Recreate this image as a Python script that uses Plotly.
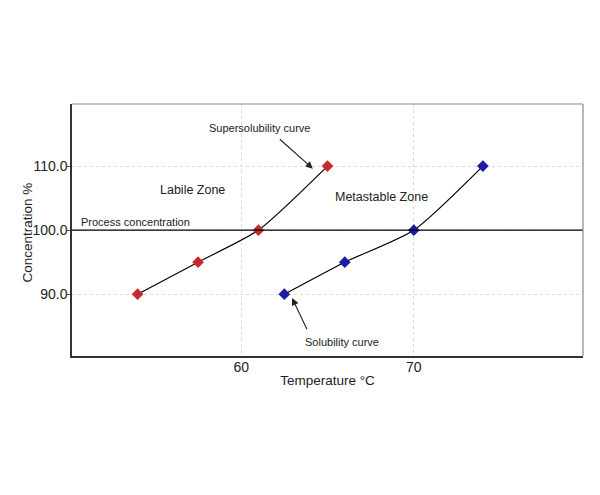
import plotly.graph_objects as go

super_temp = [54.0, 57.5, 61.0, 65.0]
super_conc = [90.0, 95.0, 100.0, 110.0]
sol_temp = [62.5, 66.0, 70.0, 74.0]
sol_conc = [90.0, 95.0, 100.0, 110.0]
process_conc = 100.0
x_ticks = [60, 70]
y_ticks = [90.0, 100.0, 110.0]
y_tick_labels = ["90.0", "100.0", "110.0"]

FONT = "Liberation Sans, Arial, sans-serif"

fig = go.Figure()
fig.add_trace(go.Scatter(x=super_temp, y=super_conc, mode="lines",
                         line=dict(color="black", width=1.2, shape="spline", smoothing=0.6),
                         hoverinfo="skip", showlegend=False))
fig.add_trace(go.Scatter(x=sol_temp, y=sol_conc, mode="lines",
                         line=dict(color="black", width=1.2, shape="spline", smoothing=0.6),
                         hoverinfo="skip", showlegend=False))
fig.add_trace(go.Scatter(x=super_temp, y=super_conc, mode="markers",
                         marker=dict(symbol="diamond", size=9, color="#c62a2a"),
                         name="Supersolubility", showlegend=False))
fig.add_trace(go.Scatter(x=sol_temp, y=sol_conc, mode="markers",
                         marker=dict(symbol="diamond", size=9, color="#1c1ca6"),
                         name="Solubility", showlegend=False))

fig.add_hline(y=process_conc, line=dict(color="black", width=1.2))

# top/right frame in gray
fig.add_shape(type="line", xref="paper", yref="paper", x0=0, x1=1, y0=1, y1=1,
              line=dict(color="#888888", width=1.2))
fig.add_shape(type="line", xref="paper", yref="paper", x0=1, x1=1, y0=0, y1=1,
              line=dict(color="#888888", width=1.2))

ann_font = dict(family=FONT, size=11, color="#222222")
fig.add_annotation(x=61.1, y=115.9, text="Supersolubility curve", showarrow=False, font=ann_font)
fig.add_annotation(x=64.15, y=109.6, ax=62.15, ay=114.4, axref="x", ayref="y",
                   text="", showarrow=True, arrowhead=2, arrowsize=1.3, arrowwidth=1.1,
                   arrowcolor="#222222")
fig.add_annotation(x=65.85, y=82.5, text="Solubility curve", showarrow=False, font=ann_font)
fig.add_annotation(x=62.95, y=89.4, ax=63.85, ay=84.3, axref="x", ayref="y",
                   text="", showarrow=True, arrowhead=2, arrowsize=1.3, arrowwidth=1.1,
                   arrowcolor="#222222")
fig.add_annotation(x=57.2, y=106.25, text="Labile Zone", showarrow=False,
                   font=dict(family=FONT, size=12.5, color="#222222"))
fig.add_annotation(x=68.15, y=105.2, text="Metastable Zone", showarrow=False,
                   font=dict(family=FONT, size=12.5, color="#222222"))
fig.add_annotation(x=50.6, y=101.25, text="Process concentration", showarrow=False,
                   xanchor="left", font=dict(family=FONT, size=11, color="#222222"))
# y-axis title
fig.add_annotation(xref="paper", yref="paper", x=-0.088, y=0.49, text="Concentration %",
                   textangle=-90, showarrow=False, xanchor="center", yanchor="middle",
                   font=dict(family=FONT, size=13.5, color="#222222"))

fig.update_layout(
    width=600, height=495,
    margin=dict(l=64, r=25, t=96, b=147),
    paper_bgcolor="white", plot_bgcolor="white",
    font=dict(family=FONT, color="#222222"),
    xaxis=dict(range=[50.2, 79.8], tickvals=x_ticks, showgrid=True,
               gridcolor="#dadada", griddash="dot", gridwidth=1,
               showline=True, linecolor="#333333", linewidth=1.5,
               ticks="", tickfont=dict(size=14), zeroline=False,
               ticklabelstandoff=-3, automargin=False,
               title=dict(text="Temperature °C", font=dict(size=13.5), standoff=2)),
    yaxis=dict(range=[80.35, 119.7], tickvals=y_ticks, ticktext=y_tick_labels,
               showgrid=True, gridcolor="#dadada", griddash="dot", gridwidth=1,
               showline=True, linecolor="#333333", linewidth=1.5,
               ticks="outside", ticklen=3, tickcolor="#555555",
               tickfont=dict(size=14), zeroline=False,
               ticklabelstandoff=-3, automargin=False),
)

fig.write_html("out.html")
